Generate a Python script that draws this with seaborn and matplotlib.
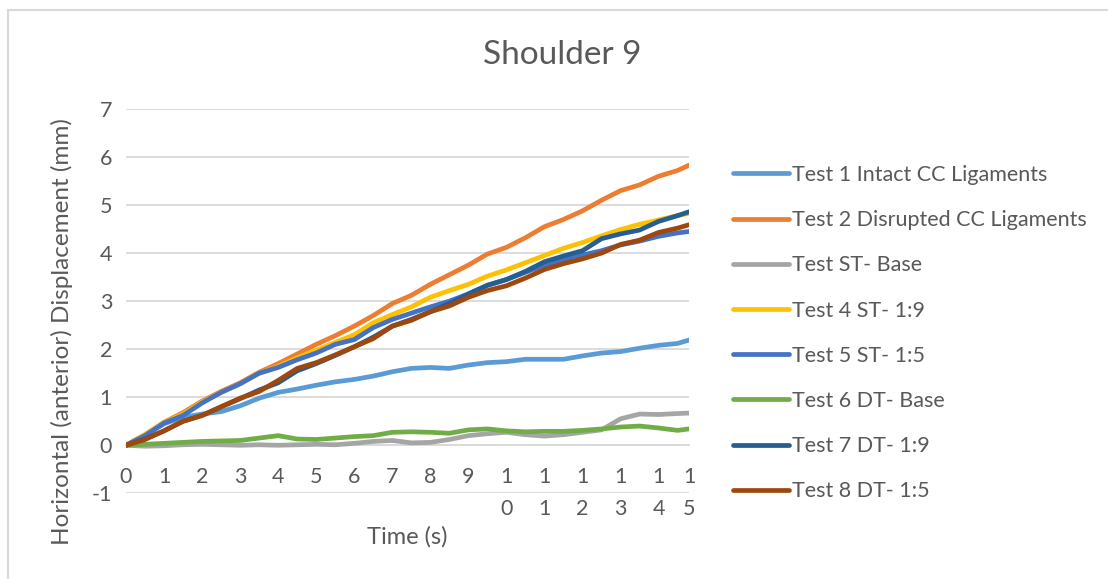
import pandas as pd
import matplotlib
matplotlib.use('Agg')
import matplotlib.pyplot as plt
import seaborn as sns
from matplotlib.patches import Rectangle

# Time samples (s)
time_s = [0, 0.5, 1, 1.5, 2, 2.5, 3, 3.5, 4, 4.5, 5, 5.5, 6, 6.5, 7, 7.5,
          8, 8.5, 9, 9.5, 10, 10.5, 11, 11.5, 12, 12.5, 13, 13.5, 14, 14.5, 14.8]

# Displacement (mm)
test1 = [0, 0.20, 0.45, 0.58, 0.65, 0.70, 0.82, 0.98, 1.10, 1.17, 1.25, 1.32, 1.37, 1.44,
         1.53, 1.60, 1.62, 1.60, 1.67, 1.72, 1.74, 1.79, 1.79, 1.79, 1.86, 1.92, 1.95,
         2.02, 2.08, 2.12, 2.19]
test2 = [0, 0.22, 0.48, 0.68, 0.92, 1.12, 1.30, 1.52, 1.70, 1.90, 2.10, 2.28, 2.48, 2.70,
         2.95, 3.12, 3.35, 3.55, 3.75, 3.98, 4.12, 4.32, 4.55, 4.70, 4.88, 5.10, 5.30,
         5.42, 5.60, 5.72, 5.83]
test3 = [0, -0.02, -0.01, 0.01, 0.02, 0.01, 0.00, 0.01, 0.00, 0.01, 0.02, 0.01, 0.04, 0.08,
         0.10, 0.05, 0.06, 0.12, 0.20, 0.24, 0.27, 0.22, 0.19, 0.22, 0.27, 0.32, 0.55,
         0.65, 0.64, 0.66, 0.67]
test4 = [0, 0.22, 0.47, 0.65, 0.90, 1.10, 1.28, 1.50, 1.64, 1.82, 1.98, 2.14, 2.30, 2.55,
         2.72, 2.88, 3.08, 3.22, 3.35, 3.52, 3.65, 3.80, 3.95, 4.10, 4.22, 4.36, 4.49,
         4.60, 4.69, 4.78, 4.83]
test5 = [0, 0.20, 0.46, 0.62, 0.88, 1.10, 1.28, 1.50, 1.62, 1.78, 1.92, 2.10, 2.20, 2.45,
         2.62, 2.75, 2.88, 3.00, 3.15, 3.33, 3.45, 3.60, 3.75, 3.85, 3.96, 4.05, 4.17,
         4.25, 4.35, 4.42, 4.45]
test6 = [0, 0.02, 0.04, 0.06, 0.08, 0.09, 0.10, 0.15, 0.20, 0.13, 0.12, 0.15, 0.18, 0.20,
         0.27, 0.28, 0.27, 0.25, 0.32, 0.34, 0.30, 0.28, 0.29, 0.29, 0.31, 0.34, 0.38,
         0.40, 0.36, 0.31, 0.34]
test7 = [0, 0.13, 0.30, 0.50, 0.62, 0.80, 0.97, 1.15, 1.30, 1.55, 1.70, 1.87, 2.05, 2.25,
         2.48, 2.62, 2.78, 2.95, 3.15, 3.33, 3.45, 3.62, 3.82, 3.94, 4.05, 4.30, 4.40,
         4.48, 4.66, 4.78, 4.86]
test8 = [0, 0.12, 0.30, 0.50, 0.62, 0.80, 0.98, 1.12, 1.35, 1.60, 1.72, 1.88, 2.05, 2.22,
         2.48, 2.60, 2.78, 2.90, 3.08, 3.22, 3.32, 3.48, 3.66, 3.78, 3.88, 4.00, 4.18,
         4.27, 4.43, 4.52, 4.59]

series_names = ['Test 1 Intact CC Ligaments', 'Test 2 Disrupted CC Ligaments',
                'Test ST- Base', 'Test 4 ST- 1:9', 'Test 5 ST- 1:5',
                'Test 6 DT- Base', 'Test 7 DT- 1:9', 'Test 8 DT- 1:5']
series_values = [test1, test2, test3, test4, test5, test6, test7, test8]
colors = ['#5B9BD5', '#ED7D31', '#A5A5A5', '#FFC000', '#4472C4', '#70AD47', '#255E91', '#9E480E']

tick_values = [0, 1, 2, 3, 4, 5, 6, 7, 8, 9, 10, 11, 12, 13, 14, 14.8]
tick_labels = ['0', '1', '2', '3', '4', '5', '6', '7', '8', '9',
               '1\n0', '1\n1', '1\n2', '1\n3', '1\n4', '1\n5']

# Long-form table for seaborn
rows = []
for name, vals in zip(series_names, series_values):
    for t, v in zip(time_s, vals):
        rows.append({'Time': t, 'Displacement': v, 'Series': name})
df = pd.DataFrame(rows)

sns.set_theme(style='white')
plt.rcParams['font.family'] = ['Lato', 'DejaVu Sans']
plt.rcParams['axes.unicode_minus'] = False
text_color = '#595959'
grid_color = '#D9D9D9'

fig = plt.figure(figsize=(11.08, 5.79), dpi=100)
ax = fig.add_axes([126 / 1108, 1 - 493.3 / 579, (689 - 126) / 1108, (493.3 - 109) / 579])

sns.lineplot(data=df, x='Time', y='Displacement', hue='Series', hue_order=series_names,
             palette=colors, linewidth=3.4, ax=ax, legend=False, sort=False)
for line in ax.lines:
    line.set_solid_capstyle('round')
    line.set_solid_joinstyle('round')

ax.set_xlim(0, 14.8)
ax.set_ylim(-1, 7)
ax.set_yticks(range(-1, 8))
ax.yaxis.grid(True, color=grid_color, linewidth=1.3)
ax.set_axisbelow(True)
for side in ['top', 'right', 'left']:
    ax.spines[side].set_visible(False)
ax.spines['bottom'].set_position(('data', 0))
ax.spines['bottom'].set_color(grid_color)
ax.spines['bottom'].set_linewidth(1.3)
ax.spines['bottom'].set_zorder(0.5)

ax.set_xticks(tick_values)
ax.set_xticklabels(tick_labels, linespacing=1.7)
ax.tick_params(axis='x', length=0, pad=16, labelsize=15.5, labelcolor=text_color)
ax.tick_params(axis='y', length=0, pad=10, labelsize=15.5, labelcolor=text_color)

ax.set_xlabel('Time (s)', fontsize=17, color=text_color)
ax.xaxis.set_label_coords(407 / 1108, 1 - 537 / 579, transform=fig.transFigure)
ax.xaxis.label.set_verticalalignment('center')
ax.set_ylabel('Horizontal (anterior) Displacement (mm)', fontsize=17.5, color=text_color)
ax.yaxis.set_label_coords(62 / 1108, 1 - 332 / 579, transform=fig.transFigure)
ax.yaxis.label.set_verticalalignment('center')

fig.text(562 / 1108, 1 - 55 / 579, 'Shoulder 9', ha='center', va='center',
         fontsize=24, color=text_color)

handles = ax.lines[:len(series_names)]
leg = fig.legend(handles, series_names, loc='upper left',
                 bbox_to_anchor=(733 / 1108, 1 - 165 / 579), frameon=False,
                 fontsize=15.5, handlelength=2.6, handletextpad=0.15,
                 labelspacing=1.17, borderpad=0, borderaxespad=0)
for txt in leg.get_texts():
    txt.set_color(text_color)

# chart border
fig.patches.append(Rectangle((8 / 1108, -0.1), 1.2, 1 - 10 / 579 + 0.1, fill=False,
                             edgecolor=grid_color, linewidth=1.5, transform=fig.transFigure))

fig.savefig('out.png', dpi=100)
